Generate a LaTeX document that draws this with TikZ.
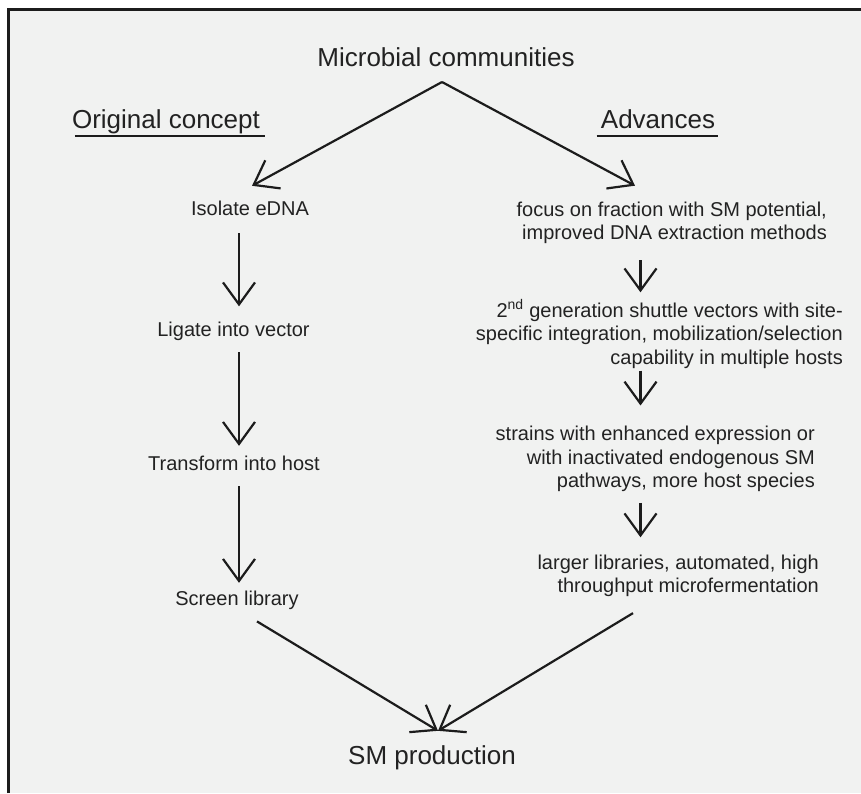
\documentclass[tikz,border=0pt]{standalone}
\usepackage{fontspec}
\setmainfont{Liberation Sans}
\usepackage{xcolor}
\usepackage{tikz}
\usetikzlibrary{arrows.meta}
\definecolor{inkgray}{HTML}{222222}
\definecolor{linegray}{HTML}{1C1C1C}
\definecolor{panelbg}{HTML}{F1F2F1}

\begin{document}
\begin{tikzpicture}[
    x=1pt, y=-1pt,
    title/.style={font=\fontsize{26}{31}\selectfont, text=inkgray, inner sep=0pt,
                  text height=19pt, text depth=5.5pt},
    heading/.style={title, text depth=6pt},
    stage/.style={font=\fontsize{20}{23.6}\selectfont, text=inkgray, inner sep=0pt,
                  text height=14.5pt, text depth=4.2pt},
    advance/.style={font=\fontsize{20}{23.6}\selectfont, text=inkgray, inner sep=0pt,
                  align=right, anchor=east},
    rule/.style={line width=2.5pt, draw=linegray},
    arrow/.style={-{Straight Barb[length=22pt, width=32pt]}, line width=2.2pt, draw=linegray}
]
  \useasboundingbox (0,0) rectangle (861,793);
  \fill[panelbg] (8.7,9.7) rectangle (861,793);
  \draw[line width=2.7pt, draw=linegray] (8.7,793) -- (8.7,9.7) -- (861,9.7);

  % headings
  \node[title] (micro) at (446,60) {Microbial communities};
  \node[heading] (orig) at (166,121.5) {Original concept};
  \node[heading] (adv) at (658,121.5) {Advances};
  \draw[rule] ([xshift=3pt,yshift=-2pt]orig.south west) -- ([xshift=5pt,yshift=-2pt]orig.south east);
  \draw[rule] ([xshift=-4pt,yshift=-2pt]adv.south west) -- ([xshift=3pt,yshift=-2pt]adv.south east);
  \coordinate (split) at (442,82);
  \coordinate (lcol) at (239,0);
  \coordinate (rcol) at (640.5,0);

  % original concept
  \node[stage] (isolate) at (250,209.85) {Isolate eDNA};
  \node[stage] (ligate) at (233.5,330.85) {Ligate into vector};
  \node[stage] (transform) at (234,464.85) {Transform into host};
  \node[stage] (screen) at (237,599.85) {Screen library};

  % advances
  \node[advance] (focus) at (827,223) {focus on fraction with SM potential,\\improved DNA extraction methods};
  \node[advance] (shuttle) at (843,334) {2\textsuperscript{nd} generation shuttle vectors with site-\\specific integration, mobilization/selection\\capability in multiple hosts};
  \node[advance] (strains) at (815,459) {strains with enhanced expression or\\with inactivated endogenous SM\\pathways, more host species};
  \node[advance] (libs) at (819,576) {larger libraries, automated, high\\throughput microfermentation};

  \node[title] (smprod) at (432,757.25) {SM production};

  \draw[arrow] (split) -- ([xshift=2pt,yshift=14.5pt]isolate.north);
  \draw[arrow] (split) -- ([xshift=-5.5pt,yshift=16pt]focus.north -| rcol);

  \draw[arrow, shorten <=14pt, shorten >=15pt] (isolate.south -| lcol) -- (ligate.north -| lcol);
  \draw[arrow, shorten <=12pt, shorten >=9.5pt] (ligate.south -| lcol) -- (transform.north -| lcol);
  \draw[arrow, shorten <=12pt, shorten >=7.5pt] (transform.south -| lcol) -- (screen.north -| lcol);

  \draw[arrow, shorten <=15.8pt, shorten >=7pt] (focus.south -| rcol) -- (shuttle.north -| rcol);
  \draw[arrow, shorten <=2pt, shorten >=20.4pt] (shuttle.south -| rcol) -- (strains.north -| rcol);
  \draw[arrow, shorten <=10.8pt, shorten >=17.4pt] (strains.south -| rcol) -- (libs.north -| rcol);

  \draw[arrow] ([xshift=20pt,yshift=-12pt]screen.south) -- ([xshift=6pt,yshift=14pt]smprod.north);
  \draw[arrow] ([xshift=-7.5pt,yshift=-15.8pt]libs.south -| rcol) -- ([xshift=6pt,yshift=14pt]smprod.north);
\end{tikzpicture}
\end{document}
